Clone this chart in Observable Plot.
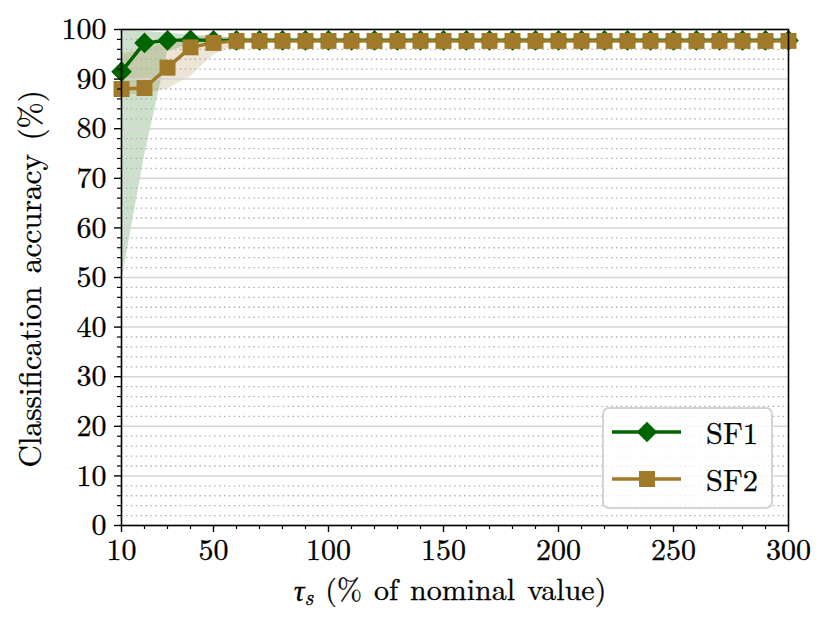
<!DOCTYPE html>
<html><head><meta charset="utf-8">
<script src="https://cdn.jsdelivr.net/npm/d3@7"></script>
<script src="https://cdn.jsdelivr.net/npm/@observablehq/plot@0.6"></script>
<style>
body{margin:0;background:#fff;font-family:'Latin Modern Roman','Liberation Serif',serif;}
#wrap{position:relative;width:830px;height:629px;}
#wrap svg, #wrap svg text, #wrap svg tspan{font-family:'Latin Modern Roman','Liberation Serif',serif !important;}
</style></head><body><div id="wrap"></div>
<script>
const tau = [10,20,30,40,50,60,70,80,90,100,110,120,130,140,150,160,170,180,190,200,210,220,230,240,250,260,270,280,290,300];
const sf1Mean = [91.5,97.3,97.8,97.9,97.8,97.8,97.8,97.8,97.8,97.8,97.8,97.8,97.8,97.8,97.8,97.8,97.8,97.8,97.8,97.8,97.8,97.8,97.8,97.8,97.8,97.8,97.8,97.8,97.8,97.8];
const sf1Lo   = [49.0,74.5,95.5,97.0,97.2,97.3,97.3,97.3,97.3,97.3,97.3,97.3,97.3,97.3,97.3,97.3,97.3,97.3,97.3,97.3,97.3,97.3,97.3,97.3,97.3,97.3,97.3,97.3,97.3,97.3];
const sf1Hi   = [99.8,99.6,99.3,98.9,98.6,98.3,98.3,98.3,98.3,98.3,98.3,98.3,98.3,98.3,98.3,98.3,98.3,98.3,98.3,98.3,98.3,98.3,98.3,98.3,98.3,98.3,98.3,98.3,98.3,98.3];
const sf2Mean = [88.0,88.2,92.3,96.4,97.3,97.7,97.7,97.7,97.7,97.7,97.7,97.7,97.7,97.7,97.7,97.7,97.7,97.7,97.7,97.7,97.7,97.7,97.7,97.7,97.7,97.7,97.7,97.7,97.7,97.7];
const sf2Lo   = [86.8,87.0,88.0,90.5,94.8,97.0,97.2,97.2,97.2,97.2,97.2,97.2,97.2,97.2,97.2,97.2,97.2,97.2,97.2,97.2,97.2,97.2,97.2,97.2,97.2,97.2,97.2,97.2,97.2,97.2];
const sf2Hi   = [95.0,96.0,97.5,98.5,98.6,98.3,98.2,98.2,98.2,98.2,98.2,98.2,98.2,98.2,98.2,98.2,98.2,98.2,98.2,98.2,98.2,98.2,98.2,98.2,98.2,98.2,98.2,98.2,98.2,98.2];
const yMajor = [0,10,20,30,40,50,60,70,80,90,100];
const yMinor = [2,4,6,8,12,14,16,18,22,24,26,28,32,34,36,38,42,44,46,48,52,54,56,58,62,64,66,68,72,74,76,78,82,84,86,88,92,94,96,98];
const xMajor = [10,50,100,150,200,250,300];
const xMinor = [20,30,40,60,70,80,90,110,120,130,140,160,170,180,190,210,220,230,240,260,270,280,290];
const seriesNames = ["SF1","SF2"];
const green = "#006400", brown = "#a07a28";
const FONT = "'Latin Modern Roman', 'Liberation Serif', serif";

const data = tau.map((t,i)=>({tau:t, sf1:sf1Mean[i], sf1Lo:sf1Lo[i], sf1Hi:sf1Hi[i], sf2:sf2Mean[i], sf2Lo:sf2Lo[i], sf2Hi:sf2Hi[i]}));

const chart = Plot.plot({
  width: 830, height: 629,
  marginLeft: 121, marginRight: 42, marginTop: 29, marginBottom: 104,
  style: {fontFamily: FONT, background: "#fff", overflow: "visible"},
  x: {domain: [10, 300]},
  y: {domain: [0, 100]},
  marks: [
    Plot.areaY(data, {x: "tau", y1: "sf1Lo", y2: "sf1Hi", fill: green, fillOpacity: 0.2}),
    Plot.areaY(data, {x: "tau", y1: "sf2Lo", y2: "sf2Hi", fill: brown, fillOpacity: 0.2}),
    Plot.ruleY(yMinor, {stroke: "#b0b0b0", strokeWidth: 1.3, strokeDasharray: "1.5,3.4"}),
    Plot.ruleY(yMajor, {stroke: "#d6d6d6", strokeWidth: 1.5}),
    Plot.line(data, {x: "tau", y: "sf1", stroke: green, strokeWidth: 3.4}),
    Plot.dot(data, {x: "tau", y: "sf1", symbol: "diamond2", r: 9.3, fill: green, stroke: "none"}),
    Plot.line(data, {x: "tau", y: "sf2", stroke: brown, strokeWidth: 3.4}),
    Plot.dot(data, {x: "tau", y: "sf2", symbol: "square", r: 9, fill: brown, stroke: "none"}),
    Plot.frame({stroke: "#000", strokeWidth: 1.6}),
    Plot.axisY(yMajor, {tickSize: 7, tickPadding: 8, fontSize: 30, label: null, stroke: "#000", strokeWidth: 1.4, fill: "#000"}),
    Plot.axisY(yMinor, {tickSize: 4, text: null, label: null, stroke: "#000", strokeWidth: 1.2}),
    Plot.axisX(xMajor, {tickSize: 7, tickPadding: 6, fontSize: 30, label: null, stroke: "#000", strokeWidth: 1.4, fill: "#000"}),
    Plot.axisX(xMinor, {tickSize: 4, text: null, label: null, stroke: "#000", strokeWidth: 1.2})
  ]
});
document.getElementById("wrap").appendChild(chart);

const svg = d3.select(chart).attr("font-family", FONT);
function fitSize(sel, base, target) {
  const len = sel.node().getComputedTextLength();
  if (len > 0) sel.attr("font-size", base * target / len);
}
// axis titles
const xl = svg.append("text").attr("x", 450).attr("y", 601).attr("text-anchor", "middle")
  .attr("font-size", 30).attr("fill", "#000").attr("word-spacing", "2px");
xl.append("tspan").attr("font-style", "italic").text("τ");
xl.append("tspan").attr("font-style", "italic").attr("font-size", "0.72em").attr("dy", "0.17em").text("s");
xl.append("tspan").attr("dy", "-0.17em").text(" (% of nominal value)");

const yl = svg.append("text").attr("transform", "translate(41,279) rotate(-90)").attr("text-anchor", "middle")
  .attr("font-size", 30).attr("fill", "#000").attr("word-spacing", "3px")
  .text("Classification accuracy (%)");
fitSize(yl, 30, 378);

// legend
const lg = svg.append("g");
lg.append("rect").attr("x", 603).attr("y", 408).attr("width", 169).attr("height", 100).attr("rx", 6)
  .attr("fill", "rgba(255,255,255,0.8)").attr("stroke", "#d4d4d4").attr("stroke-width", 2);
const cols = [green, brown], syms = [d3.symbolDiamond2, d3.symbolSquare], sizes = [Math.PI*86, Math.PI*81];
seriesNames.forEach((name, i) => {
  const cy = 432 + i * 47;
  lg.append("line").attr("x1", 612).attr("x2", 681).attr("y1", cy).attr("y2", cy).attr("stroke", cols[i]).attr("stroke-width", 3.4);
  lg.append("path").attr("transform", `translate(647,${cy})`).attr("d", d3.symbol(syms[i], sizes[i])()).attr("fill", cols[i]);
  const t = lg.append("text").attr("x", 706).attr("y", cy + 12).attr("text-anchor", "start").attr("font-size", 32).attr("fill", "#000").text(name);
  fitSize(t, 32, 52);
});
svg.selectAll("text").attr("font-family", FONT).attr("stroke", "#000").attr("stroke-width", 0.3);
</script></body></html>
